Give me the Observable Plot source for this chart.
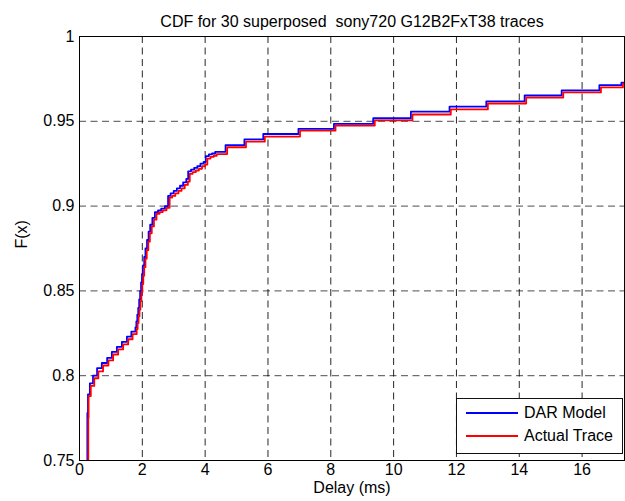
<!DOCTYPE html>
<html>
<head>
<meta charset="utf-8">
<script src="https://cdn.jsdelivr.net/npm/d3@7"></script>
<script src="https://cdn.jsdelivr.net/npm/@observablehq/plot@0.6"></script>
<style>
  html, body { margin: 0; padding: 0; background: #fff; }
  #wrap { position: relative; width: 625px; height: 501px; font-family: "Liberation Sans", Arial, sans-serif; }
  #legend { position: absolute; left: 456px; top: 398px; width: 167px; height: 56px; border: 1px solid #111; background: #fff; box-sizing: border-box; }
  .item { position: absolute; left: 0; height: 20px; display: flex; align-items: center; font-size: 16px; color: #000; }
  .sw { width: 52px; height: 0; border-top: 2px solid; margin-left: 9px; margin-right: 6px; }
</style>
</head>
<body>
<div id="wrap">
  <div id="chart"></div>
  <div id="legend"></div>
</div>
<script>
const titleText = "CDF for 30 superposed  sony720 G12B2FxT38 traces";
const xLabel = "Delay (ms)";
const yLabel = "F(x)";
const seriesNames = ["DAR Model", "Actual Trace"];
const seriesColors = ["#0000ff", "#ff0000"];
const xTicks = [0, 2, 4, 6, 8, 10, 12, 14, 16];
const yTicks = [0.75, 0.8, 0.85, 0.9, 0.95, 1];

const darX = [0.24, 0.25, 0.27, 0.33, 0.43, 0.56, 0.71, 0.88, 1.03, 1.19, 1.35, 1.51, 1.65, 1.78, 1.81, 1.84, 1.87, 1.9, 1.93, 1.96, 1.99, 2.02, 2.06, 2.1, 2.15, 2.2, 2.25, 2.32, 2.4, 2.5, 2.6, 2.72, 2.82, 2.9, 3.0, 3.1, 3.2, 3.3, 3.4, 3.46, 3.55, 3.65, 3.75, 3.85, 3.95, 4.02, 4.12, 4.22, 4.32, 4.65, 5.25, 5.85, 6.97, 8.1, 9.35, 10.55, 11.78, 12.95, 14.17, 15.35, 16.55, 17.25, 17.4];
const darY = [0.70, 0.778, 0.789, 0.7955, 0.8, 0.8045, 0.8075, 0.8105, 0.814, 0.817, 0.82, 0.823, 0.826, 0.8285, 0.832, 0.836, 0.84, 0.845, 0.85, 0.855, 0.86, 0.865, 0.87, 0.875, 0.88, 0.885, 0.889, 0.893, 0.8964, 0.8975, 0.8985, 0.9, 0.906, 0.9075, 0.909, 0.9105, 0.912, 0.914, 0.916, 0.9205, 0.9215, 0.9225, 0.9235, 0.925, 0.926, 0.9295, 0.9305, 0.931, 0.932, 0.936, 0.9393, 0.9425, 0.9455, 0.9485, 0.9518, 0.9557, 0.9587, 0.9617, 0.9652, 0.9682, 0.9713, 0.9728, 0.9728];

const actX = [0.26, 0.28, 0.29, 0.36, 0.47, 0.6, 0.75, 0.92, 1.07, 1.23, 1.39, 1.55, 1.69, 1.82, 1.85, 1.88, 1.91, 1.94, 1.97, 2.0, 2.03, 2.06, 2.1, 2.14, 2.19, 2.24, 2.3, 2.37, 2.45, 2.55, 2.65, 2.77, 2.87, 2.95, 3.05, 3.15, 3.25, 3.35, 3.45, 3.51, 3.6, 3.7, 3.8, 3.9, 4.0, 4.07, 4.17, 4.27, 4.37, 4.7, 5.3, 5.9, 7.02, 8.15, 9.4, 10.6, 11.82, 13.0, 14.22, 15.4, 16.6, 17.3, 17.4];
const actY = [0.70, 0.775, 0.788, 0.794, 0.7985, 0.8025, 0.806, 0.809, 0.8125, 0.8155, 0.8185, 0.8215, 0.8245, 0.8275, 0.831, 0.835, 0.839, 0.844, 0.849, 0.854, 0.859, 0.864, 0.869, 0.874, 0.879, 0.884, 0.888, 0.892, 0.8955, 0.8965, 0.8975, 0.899, 0.905, 0.906, 0.9075, 0.909, 0.9105, 0.9125, 0.9145, 0.919, 0.92, 0.921, 0.922, 0.9235, 0.9245, 0.928, 0.929, 0.9297, 0.9307, 0.9347, 0.938, 0.941, 0.9445, 0.9475, 0.9505, 0.954, 0.957, 0.9605, 0.964, 0.967, 0.970, 0.9722, 0.9725];

const dar = darX.map((x, i) => ({x, y: darY[i]}));
const act = actX.map((x, i) => ({x, y: actY[i]}));
const fmtY = d => String(+d.toFixed(2));
const gridX = {stroke: "#000", strokeOpacity: 0.85, strokeDasharray: "7,4.5", strokeWidth: 1};
const gridY = {stroke: "#000", strokeOpacity: 0.7, strokeDasharray: "7,4.5", strokeWidth: 1};

const chart = Plot.plot({
  width: 625, height: 501,
  marginLeft: 79, marginRight: 1, marginTop: 36, marginBottom: 41,
  x: {domain: [0, 17.35]},
  y: {domain: [0.75, 1]},
  style: {fontFamily: "'Liberation Sans', Arial, sans-serif", fontSize: "16px", color: "#000", background: "#fff", overflow: "visible"},
  marks: [
    Plot.gridX(xTicks, gridX),
    Plot.gridY(yTicks, gridY),
    Plot.line(dar, {x: "x", y: "y", curve: "step-after", stroke: seriesColors[0], strokeWidth: 1.8, clip: true}),
    Plot.line(act, {x: "x", y: "y", curve: "step-after", stroke: seriesColors[1], strokeWidth: 1.8, clip: true}),
    Plot.frame({stroke: "#000", strokeWidth: 1}),
    Plot.axisX(xTicks, {tickSize: 0, tickPadding: 3, label: null, fontSize: 16}),
    Plot.axisY(yTicks, {tickSize: 0, tickPadding: 5, tickFormat: fmtY, label: null, fontSize: 16}),
    Plot.text([titleText], {text: d => d, frameAnchor: "top", dy: -21, fontSize: 16}),
    Plot.text([xLabel], {text: d => d, frameAnchor: "bottom", dy: 32, fontSize: 16}),
    Plot.text([yLabel], {text: d => d, frameAnchor: "left", dx: -58, rotate: -90, fontSize: 16})
  ]
});
document.getElementById("chart").appendChild(chart);

const legend = document.getElementById("legend");
seriesNames.forEach((name, i) => {
  const item = document.createElement("div");
  item.className = "item";
  item.style.top = (4 + i * 23) + "px";
  const sw = document.createElement("span");
  sw.className = "sw";
  sw.style.borderTopColor = seriesColors[i];
  const t = document.createElement("span");
  t.textContent = name;
  item.appendChild(sw);
  item.appendChild(t);
  legend.appendChild(item);
});
</script>
</body>
</html>
